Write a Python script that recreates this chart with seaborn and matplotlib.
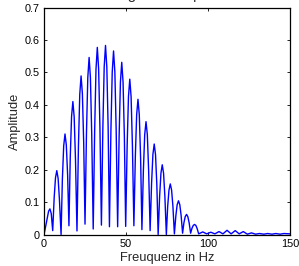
import matplotlib
matplotlib.use("Agg")
import matplotlib.pyplot as plt
import seaborn as sns
import pandas as pd

# ---- data ----
# main lobes (minima, shoulders and peaks), frequency in Hz
lobe_freq = [
    0.0, 1.0, 2.0, 2.8, 3.6, 4.4,
    5.3, 6.2, 7.0, 7.8, 8.6, 9.4,
    10.4, 11.2, 12.0, 12.8, 13.6, 14.4,
    15.2, 16.0, 16.8, 17.6, 18.4, 19.2,
    20.1, 21.0, 21.8, 22.6, 23.4, 24.2,
    25.0, 25.9, 26.7, 27.5, 28.3, 29.1,
    30.0, 30.9, 31.7, 32.5, 33.3, 34.1,
    35.0, 35.9, 36.7, 37.5, 38.3, 39.1,
    39.9, 40.8, 41.6, 42.4, 43.2, 44.0,
    44.9, 45.8, 46.6, 47.4, 48.2, 49.0,
    49.8, 50.7, 51.5, 52.3, 53.1, 53.9,
    54.8, 55.7, 56.5, 57.3, 58.1, 58.9,
    59.7, 60.6, 61.4, 62.2, 63.0, 63.8,
    64.7, 65.6, 66.4, 67.2, 68.0, 68.8,
    69.6, 70.5, 71.3, 72.1, 72.9, 73.7,
    74.6, 75.4, 76.2, 77.0, 77.8, 78.6,
    79.5, 80.4, 81.2, 82.0, 82.8, 83.6,
    84.5, 85.3, 86.1, 86.9, 87.7, 88.5,
    89.4, 90.2, 91.0, 91.8, 92.6, 93.4,
    94.3,
]
lobe_amp = [
    0.000, 0.025, 0.052, 0.072, 0.079, 0.065,
    0.012, 0.114, 0.175, 0.197, 0.173, 0.108,
    0.000, 0.171, 0.273, 0.310, 0.276, 0.183,
    0.027, 0.238, 0.364, 0.410, 0.362, 0.230,
    0.011, 0.274, 0.432, 0.489, 0.434, 0.283,
    0.032, 0.315, 0.484, 0.546, 0.483, 0.308,
    0.017, 0.325, 0.510, 0.577, 0.511, 0.330,
    0.029, 0.334, 0.517, 0.583, 0.516, 0.331,
    0.024, 0.322, 0.501, 0.566, 0.501, 0.322,
    0.024, 0.303, 0.470, 0.531, 0.470, 0.303,
    0.025, 0.275, 0.425, 0.479, 0.425, 0.276,
    0.027, 0.242, 0.370, 0.417, 0.369, 0.236,
    0.015, 0.198, 0.308, 0.348, 0.308, 0.197,
    0.012, 0.159, 0.247, 0.279, 0.246, 0.153,
    0.000, 0.118, 0.189, 0.215, 0.189, 0.118,
    0.000, 0.086, 0.137, 0.156, 0.137, 0.087,
    0.002, 0.058, 0.092, 0.104, 0.092, 0.059,
    0.004, 0.036, 0.055, 0.062, 0.055, 0.036,
    0.004, 0.019, 0.028, 0.031, 0.028, 0.018,
    0.002,
]
# small ripples in the tail
tail_freq = [96.8, 99.2, 101.7, 104.2, 106.7, 109.1, 111.6, 114.1, 116.6, 119.0,
             121.5, 124.0, 126.5, 129.0, 131.4, 134.0, 136.4, 139.0, 141.3, 144.0,
             146.3, 150.0]
tail_amp = [0.008, 0.002, 0.007, 0.002, 0.009, 0.002, 0.013, 0.002, 0.012, 0.002,
            0.009, 0.001, 0.005, 0.001, 0.003, 0.001, 0.003, 0.001, 0.003, 0.001,
            0.003, 0.002]

x_ticks = [0, 50, 100, 150]
y_ticks = [0, 0.1, 0.2, 0.3, 0.4, 0.5, 0.6, 0.7]
y_tick_labels = ["0", "0.1", "0.2", "0.3", "0.4", "0.5", "0.6", "0.7"]
title_text = "Magnitudenspektrum"
x_label = "Freuquenz in Hz"
y_label = "Amplitude"

df = pd.DataFrame({"Frequenz": lobe_freq + tail_freq, "Amplitude": lobe_amp + tail_amp})

sns.set_style("white")
plt.rcParams["font.family"] = ["Liberation Sans", "DejaVu Sans"]

fig = plt.figure(figsize=(2.99, 2.66), dpi=100)
ax = fig.add_axes([0.1472, 0.1184, 0.8227, 0.8534])

sns.lineplot(data=df, x="Frequenz", y="Amplitude", ax=ax, color="#0000ff",
             linewidth=1.0, sort=False, estimator=None)

ax.set_xlim(0, 150)
ax.set_ylim(0, 0.7)
ax.set_xticks(x_ticks)
ax.set_xticklabels([str(t) for t in x_ticks])
ax.set_yticks(y_ticks)
ax.set_yticklabels(y_tick_labels)
ax.tick_params(direction="in", length=2.5, width=0.6, labelsize=7.8, colors="black",
               top=True, right=True, bottom=True, left=True, pad=3)
for s in ax.spines.values():
    s.set_visible(True)
    s.set_color("black")
    s.set_linewidth(0.9)
ax.set_xlabel(x_label, fontsize=9.3, labelpad=2.5)
ax.set_ylabel(y_label, fontsize=9.3, labelpad=3)
ax.grid(False)

fig.text(108 / 299, 1.0 + 1.5 / 266, title_text, fontsize=10.8, ha="left", va="baseline")

fig.savefig("out.png", dpi=100)
